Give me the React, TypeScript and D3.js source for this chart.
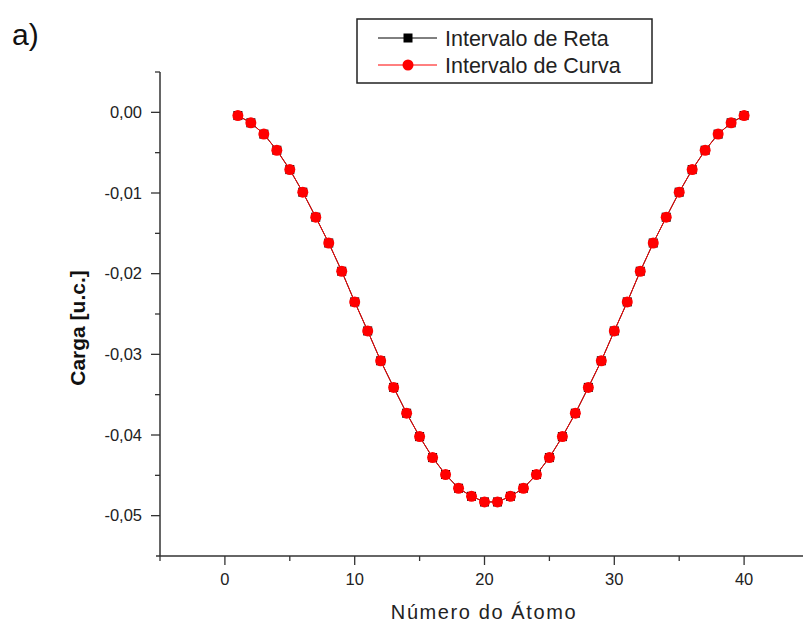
import React from "react";
import * as d3 from "d3";

const atoms = [1,2,3,4,5,6,7,8,9,10,11,12,13,14,15,16,17,18,19,20,21,22,23,24,25,26,27,28,29,30,31,32,33,34,35,36,37,38,39,40];
const reta = [-0.0004,-0.0013,-0.0027,-0.0047,-0.0071,-0.0099,-0.0130,-0.0162,-0.0197,-0.0235,-0.0271,-0.0308,-0.0341,-0.0373,-0.0402,-0.0428,-0.0449,-0.0466,-0.0476,-0.0483,-0.0483,-0.0476,-0.0466,-0.0449,-0.0428,-0.0402,-0.0373,-0.0341,-0.0308,-0.0271,-0.0235,-0.0197,-0.0162,-0.0130,-0.0099,-0.0071,-0.0047,-0.0027,-0.0013,-0.0004];
const curva = [-0.0004,-0.0013,-0.0027,-0.0047,-0.0071,-0.0099,-0.0130,-0.0162,-0.0197,-0.0235,-0.0271,-0.0308,-0.0341,-0.0373,-0.0402,-0.0428,-0.0449,-0.0466,-0.0476,-0.0483,-0.0483,-0.0476,-0.0466,-0.0449,-0.0428,-0.0402,-0.0373,-0.0341,-0.0308,-0.0271,-0.0235,-0.0197,-0.0162,-0.0130,-0.0099,-0.0071,-0.0047,-0.0027,-0.0013,-0.0004];
const xMajor = [0, 10, 20, 30, 40];
const xMinor = [-5, 5, 15, 25, 35];
const yMajor = [0, -0.01, -0.02, -0.03, -0.04, -0.05];
const yMinor = [0.005, -0.005, -0.015, -0.025, -0.035, -0.045];
const seriesNames = ["Intervalo de Reta", "Intervalo de Curva"];

const FONT = "'Liberation Sans', Arial, sans-serif";

export default function App() {
  const x = d3.scaleLinear().domain([-5, 45]).range([160, 809]);
  const y = d3.scaleLinear().domain([-0.055, 0.005]).range([556, 72]);
  const fmt = (v: number) => d3.format(".2f")(v).replace("−", "-").replace(".", ",");
  const line = d3.line<number>().x((_, i) => x(atoms[i])).y((d) => y(d));

  return (
    <svg width={803} height={626} style={{ position: "absolute", left: 0, top: 0, background: "#fff" }} fontFamily={FONT}>
      <rect x={0} y={0} width={803} height={626} fill="#fff" />
      <text x={12} y={45} fontSize={30} fill="#111">a)</text>

      {/* axes */}
      <line x1={160} y1={72} x2={160} y2={556} stroke="#333" strokeWidth={1.5} />
      <line x1={156} y1={556} x2={803} y2={556} stroke="#333" strokeWidth={1.5} />

      {yMajor.map((v) => (
        <g key={"ym" + v}>
          <line x1={151} x2={160} y1={y(v)} y2={y(v)} stroke="#333" strokeWidth={1.3} />
          <text x={142} y={y(v)} dy="0.35em" textAnchor="end" fontSize={16.5} fill="#222">{fmt(v)}</text>
        </g>
      ))}
      {yMinor.map((v) => (
        <line key={"yn" + v} x1={155} x2={160} y1={y(v)} y2={y(v)} stroke="#333" strokeWidth={1.3} />
      ))}
      {xMajor.map((v) => (
        <g key={"xm" + v}>
          <line x1={x(v)} x2={x(v)} y1={556} y2={565} stroke="#333" strokeWidth={1.3} />
          <text x={x(v)} y={585} textAnchor="middle" fontSize={16.5} fill="#222">{v}</text>
        </g>
      ))}
      {xMinor.map((v) => (
        <line key={"xn" + v} x1={x(v)} x2={x(v)} y1={556} y2={561} stroke="#333" strokeWidth={1.3} />
      ))}

      <text x={484} y={619} textAnchor="middle" fontSize={20} fill="#222" letterSpacing={1.6}>Número do Átomo</text>
      <text transform={`translate(85,328) rotate(-90)`} textAnchor="middle" fontSize={21} fontWeight="bold" fill="#111">Carga [u.c.]</text>

      {/* series */}
      <path d={line(reta) || ""} fill="none" stroke="#000" strokeWidth={1} />
      {reta.map((v, i) => (
        <rect key={"s" + i} x={x(atoms[i]) - 4.5} y={y(v) - 4.5} width={9} height={9} fill="#000" />
      ))}
      <path d={line(curva) || ""} fill="none" stroke="#f00" strokeWidth={1} />
      {curva.map((v, i) => (
        <circle key={"c" + i} cx={x(atoms[i])} cy={y(v)} r={5.5} fill="#f00" />
      ))}

      {/* legend */}
      <rect x={357} y={19} width={295} height={64} fill="#fff" stroke="#222" strokeWidth={1.5} />
      <line x1={378} x2={437} y1={38} y2={38} stroke="#000" strokeWidth={1} />
      <rect x={403.5} y={33.5} width={9} height={9} fill="#000" />
      <text x={445} y={38} dy="0.35em" fontSize={21.5} fill="#222">{seriesNames[0]}</text>
      <line x1={378} x2={437} y1={65} y2={65} stroke="#f00" strokeWidth={1} />
      <circle cx={408} cy={65} r={5.5} fill="#f00" />
      <text x={445} y={65} dy="0.35em" fontSize={21.5} fill="#222">{seriesNames[1]}</text>
    </svg>
  );
}
